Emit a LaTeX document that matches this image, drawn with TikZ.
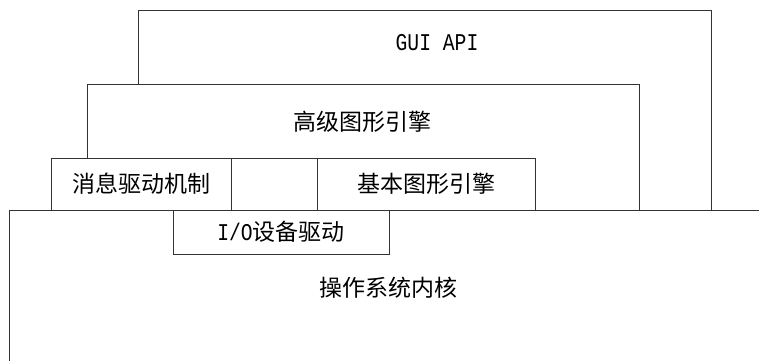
\documentclass[tikz,border=0pt]{standalone}
\usepackage{fontspec}
\newfontfamily\cjk{Noto Sans CJK SC}
\newfontfamily\latin[FakeStretch=0.82]{Liberation Mono}
\usetikzlibrary{positioning}

\begin{document}
\begin{tikzpicture}[
    x=1pt, y=-1pt,
    layer/.style={rectangle, draw=black!80, fill=white, line width=0.8pt,
                  inner sep=0pt, outer sep=0pt, anchor=north west},
    frame/.style={draw=black!80, line width=0.8pt},
    txt/.style={inner sep=0pt, font=\fontsize{23}{26}\selectfont\cjk},
    lat/.style={font=\fontsize{24}{26}\selectfont\latin},
]
\useasboundingbox (0,0) rectangle (759,361);

% kernel: open frame, top and left edges only
\coordinate (kernelTL) at (9,210);
\coordinate (kernelTR) at (759,210);
\coordinate (kernelBL) at (9,361);
\draw[frame] (kernelTR) -- (kernelTL) -- (kernelBL);

% stacked layers
\node[layer, minimum width=573pt, minimum height=200pt] (gui)   at (138,10)  {};
\node[layer, minimum width=552pt, minimum height=126pt] (high)  at (87,84)   {};
\node[layer, minimum width=180pt, minimum height=52pt]  (msg)   at (51,158)  {};
\node[layer, minimum width=86pt,  minimum height=52pt]  (gap)   at (231,158) {};
\node[layer, minimum width=218pt, minimum height=52pt]  (basic) at (317,158) {};
\node[layer, minimum width=216pt, minimum height=44pt]  (io)    at (173,210) {};

% labels
\node[txt, lat] (guiT)    at (437,43)  {GUI API};
\node[txt]      (highT)   at (362,122) {高级图形引擎};
\node[txt]      (msgT)    at (141,184) {消息驱动机制};
\node[txt]      (basicT)  at (426,184) {基本图形引擎};
\node[txt]      (ioT)     at (281,232) {{\fontsize{24}{26}\selectfont\latin I/O}设备驱动};
\node[txt]      (kernelT) at (388,288) {操作系统内核};
\end{tikzpicture}
\end{document}
